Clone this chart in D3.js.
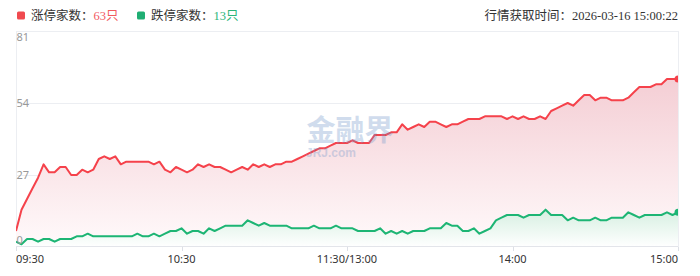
<!DOCTYPE html>
<html>
<head>
<meta charset="utf-8">
<script src="https://cdn.jsdelivr.net/npm/d3@7"></script>
<style>
    body { margin: 0; background: #fff; }
    svg { display: block; }
</style>
</head>
<body>
<svg id="chart" width="700" height="276"></svg>
<script>
// minutes after 09:30 (trading time, lunch break removed), one point every 2 min
var minutes = d3.range(0, 241, 2);

// 涨停家数
var upCounts = [
    6, 14, 18, 22, 26, 31, 28, 28, 30, 30,
    27, 27, 29, 28, 29, 33, 34, 33, 34, 31,
    32, 32, 32, 32, 32, 31, 32, 29, 28, 30,
    29, 28, 29, 31, 30, 31, 30, 30, 29, 28,
    29, 30, 29, 31, 30, 31, 30, 31, 31, 32,
    32, 33, 34, 35, 36, 37, 37, 38, 39, 39,
    39, 40, 39, 39, 39, 42, 42, 42, 43, 43,
    46, 44, 45, 46, 45, 47, 47, 46, 45, 46,
    46, 47, 48, 48, 48, 49, 49, 49, 49, 48,
    49, 48, 49, 48, 48, 49, 48, 51, 52, 53,
    54, 53, 55, 57, 57, 55, 56, 56, 55, 55,
    55, 56, 58, 60, 60, 60, 61, 61, 63, 63,
    63
];

// 跌停家数
var downCounts = [
    2, 1, 3, 3, 2, 3, 3, 2, 3, 3,
    3, 4, 4, 5, 4, 4, 4, 4, 4, 4,
    4, 4, 5, 4, 4, 5, 4, 5, 6, 6,
    7, 5, 6, 6, 5, 7, 6, 7, 8, 8,
    8, 8, 10, 9, 8, 9, 8, 8, 8, 8,
    7, 7, 7, 7, 8, 7, 7, 7, 8, 7,
    7, 7, 6, 6, 6, 6, 7, 5, 6, 5,
    6, 5, 6, 6, 6, 7, 7, 7, 9, 8,
    8, 6, 6, 7, 5, 6, 7, 10, 11, 12,
    12, 12, 11, 12, 12, 12, 14, 12, 12, 12,
    10, 11, 10, 10, 10, 11, 10, 10, 11, 11,
    11, 13, 12, 11, 12, 12, 12, 12, 13, 12,
    13
];

var xTickMinutes = [0, 60, 120, 180, 240];
var xTickLabels = ["09:30", "10:30", "11:30/13:00", "14:00", "15:00"];
var yTicks = [0, 27, 54, 81];

var RED = "#f5424b";
var GREEN = "#1db574";

// plot box (note: "top" is taken by window.top)
var plotL = 16, plotR = 678, plotT = 31, plotB = 247;

var svg = d3.select("#chart");

var x = d3.scaleLinear().domain([0, 240]).range([plotL, plotR]);
var y = d3.scaleLinear().domain([0, 81]).range([plotB, plotT]);

// gradients
var defs = svg.append("defs");
var gRed = defs.append("linearGradient")
    .attr("id", "gradRed")
    .attr("gradientUnits", "userSpaceOnUse")
    .attr("x1", 0).attr("x2", 0)
    .attr("y1", y(70)).attr("y2", plotB);
gRed.append("stop").attr("offset", 0).attr("stop-color", "#f3c9d0");
gRed.append("stop").attr("offset", 1).attr("stop-color", "#fffafb");

var gGreen = defs.append("linearGradient")
    .attr("id", "gradGreen")
    .attr("gradientUnits", "userSpaceOnUse")
    .attr("x1", 0).attr("x2", 0)
    .attr("y1", y(15)).attr("y2", plotB);
gGreen.append("stop").attr("offset", 0).attr("stop-color", "#d3eedf");
gGreen.append("stop").attr("offset", 1).attr("stop-color", "#ffffff");

defs.append("clipPath").attr("id", "plotClip")
    .append("rect")
    .attr("x", plotL).attr("y", plotT - 6)
    .attr("width", plotR - plotL).attr("height", plotB - plotT + 6);

// legend
var legend = svg.append("g")
    .attr("font-family", "'Liberation Serif', 'Noto Sans CJK SC', serif")
    .attr("font-size", 12.5);

legend.append("rect").attr("x", 17).attr("y", 11.5).attr("width", 8).attr("height", 8)
    .attr("rx", 1.5).attr("fill", "#f04a4f");
var t1 = legend.append("text").attr("x", 31).attr("y", 19.5).attr("fill", "#333");
t1.append("tspan").text("涨停家数：");
t1.append("tspan").attr("fill", "#f25a5f").text(upCounts[upCounts.length - 1] + "只");

legend.append("rect").attr("x", 137).attr("y", 11.5).attr("width", 8).attr("height", 8)
    .attr("rx", 1.5).attr("fill", "#1fae73");
var t2 = legend.append("text").attr("x", 151).attr("y", 19.5).attr("fill", "#333");
t2.append("tspan").text("跌停家数：");
t2.append("tspan").attr("fill", "#2bb57a").text(downCounts[downCounts.length - 1] + "只");

legend.append("text")
    .attr("x", plotR).attr("y", 19.5)
    .attr("text-anchor", "end")
    .attr("fill", "#333")
    .text("行情获取时间：2026-03-16 15:00:22");

// grid
svg.append("g").selectAll("line")
    .data(yTicks.slice(1))
    .enter().append("line")
    .attr("x1", plotL).attr("x2", plotR)
    .attr("y1", function(d){ return Math.round(y(d)) + 0.5; })
    .attr("y2", function(d){ return Math.round(y(d)) + 0.5; })
    .attr("stroke", "#eceef2");

svg.append("line")
    .attr("x1", plotR + 0.5).attr("x2", plotR + 0.5)
    .attr("y1", plotT).attr("y2", plotB)
    .attr("stroke", "#eceef2");
svg.append("line")
    .attr("x1", plotL + 0.5).attr("x2", plotL + 0.5)
    .attr("y1", plotT).attr("y2", plotB)
    .attr("stroke", "#eceef2");

// areas + lines
var plot = svg.append("g").attr("clip-path", "url(#plotClip)");

var areaGen = d3.area()
    .x(function(d, i){ return x(minutes[i]); })
    .y0(plotB)
    .y1(function(d){ return y(d); });
var lineGen = d3.line()
    .x(function(d, i){ return x(minutes[i]); })
    .y(function(d){ return y(d); });

plot.append("path").datum(upCounts)
    .attr("d", areaGen)
    .attr("fill", "url(#gradRed)");
plot.append("path").datum(downCounts)
    .attr("d", areaGen)
    .attr("fill", "url(#gradGreen)");

// watermark
var wm = svg.append("g").attr("opacity", 0.32).attr("fill", "#6f95c9");
wm.append("text")
    .attr("x", 350).attr("y", 141)
    .attr("text-anchor", "middle")
    .attr("font-family", "'Noto Sans CJK SC', sans-serif")
    .attr("font-weight", "bold")
    .attr("font-size", 29)
    .text("金融界");
wm.append("text")
    .attr("x", 331).attr("y", 157)
    .attr("text-anchor", "middle")
    .attr("font-family", "'Liberation Sans', sans-serif")
    .attr("font-weight", "bold")
    .attr("font-size", 12)
    .text("JRJ.com");

plot.append("path").datum(upCounts)
    .attr("d", lineGen)
    .attr("fill", "none")
    .attr("stroke", RED)
    .attr("stroke-width", 2)
    .attr("stroke-linejoin", "round");
plot.append("path").datum(downCounts)
    .attr("d", lineGen)
    .attr("fill", "none")
    .attr("stroke", GREEN)
    .attr("stroke-width", 2)
    .attr("stroke-linejoin", "round");

// end dots
var ends = [
    { v: upCounts[upCounts.length - 1], c: RED },
    { v: downCounts[downCounts.length - 1], c: GREEN }
];
plot.selectAll("circle.end")
    .data(ends)
    .enter().append("circle")
    .attr("class", "end")
    .attr("cx", x(240))
    .attr("cy", function(d){ return y(d.v); })
    .attr("r", 3.5)
    .attr("fill", function(d){ return d.c; });

// x axis
var xAxis = svg.append("g");
xAxis.append("line")
    .attr("x1", plotL).attr("x2", plotR)
    .attr("y1", plotB - 0.5).attr("y2", plotB - 0.5)
    .attr("stroke", "#e3e5ea");
xAxis.selectAll("line.tick")
    .data(xTickMinutes)
    .enter().append("line")
    .attr("class", "tick")
    .attr("x1", function(d){ return Math.round(x(d)) + 0.5; })
    .attr("x2", function(d){ return Math.round(x(d)) + 0.5; })
    .attr("y1", plotB).attr("y2", plotB + 4)
    .attr("stroke", "#dde0e6");
xAxis.selectAll("text")
    .data(xTickMinutes)
    .enter().append("text")
    .attr("x", function(d){ return x(d); })
    .attr("y", 263)
    .attr("text-anchor", function(d, i){
        if (i == 0) return "start";
        if (i == xTickMinutes.length - 1) return "end";
        return "middle";
    })
    .attr("font-family", "'Noto Sans', sans-serif")
    .attr("font-size", 11)
    .attr("fill", "#333")
    .text(function(d, i){ return xTickLabels[i]; });

// y labels
svg.append("g").selectAll("text")
    .data(yTicks)
    .enter().append("text")
    .attr("x", plotL + 0.5)
    .attr("y", function(d){
        if (d == 81) return y(d) + 10;
        if (d == 0) return y(d) - 3;
        return y(d) + 4;
    })
    .attr("font-family", "'Noto Sans', sans-serif")
    .attr("font-size", 11)
    .attr("fill", "#999")
    .text(function(d){ return d; });
</script>
</body>
</html>
